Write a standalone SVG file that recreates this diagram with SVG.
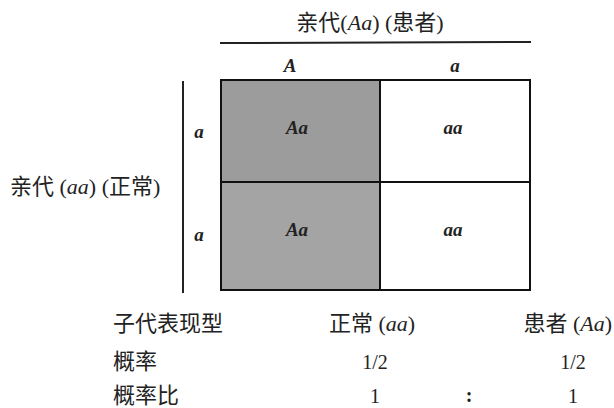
<svg xmlns="http://www.w3.org/2000/svg" width="614" height="408" viewBox="0 0 614 408">
<style>
.cjk{font-family:"Liberation Serif","Noto Sans CJK SC",serif;font-size:22px;fill:#222}
.it{font-family:"Liberation Serif",serif;font-style:italic;font-weight:bold;font-size:19px;fill:#222}
.num{font-family:"Liberation Serif",serif;font-size:20px;fill:#222;text-anchor:middle}
.ln{stroke:#222;stroke-width:2;fill:none}
.cell{stroke:#111;stroke-width:2}
</style>
<g id="title">
<text class="cjk" x="370" y="30" text-anchor="middle">亲代(<tspan font-style="italic">Aa</tspan>) (患者)</text>
</g>
<g id="connectors">
<line class="ln" x1="220" y1="43" x2="531" y2="42"/>
<line class="ln" x1="183" y1="81" x2="183" y2="293"/>
</g>
<g id="col-labels">
<text class="it" x="290" y="72" text-anchor="middle">A</text>
<text class="it" x="455" y="72" text-anchor="middle">a</text>
</g>
<g id="row-labels">
<text class="it" x="199" y="138" text-anchor="middle">a</text>
<text class="it" x="199" y="241" text-anchor="middle">a</text>
</g>
<g id="cell-1">
<rect x="221" y="80" width="159" height="102" fill="#9c9c9c" class="cell"/>
<text class="it" x="297" y="134" text-anchor="middle">Aa</text>
</g>
<g id="cell-2">
<rect x="380" y="80" width="150" height="102" fill="#fff" class="cell"/>
<text class="it" x="453" y="134" text-anchor="middle" font-weight="normal">aa</text>
</g>
<g id="cell-3">
<rect x="221" y="182" width="159" height="108" fill="#a4a4a4" class="cell"/>
<text class="it" x="297" y="236" text-anchor="middle">Aa</text>
</g>
<g id="cell-4">
<rect x="380" y="182" width="150" height="108" fill="#fff" class="cell"/>
<text class="it" x="453" y="236" text-anchor="middle" font-weight="normal">aa</text>
</g>
<g id="left-label">
<text class="cjk" x="10" y="194">亲代 (<tspan font-style="italic">aa</tspan>) (正常)</text>
</g>
<g id="table">
<text class="cjk" x="113" y="331">子代表现型</text>
<text class="cjk" x="329" y="331">正常 (<tspan font-style="italic">aa</tspan>)</text>
<text class="cjk" x="612" y="331" text-anchor="end">患者 (<tspan font-style="italic">Aa</tspan>)</text>
<text class="cjk" x="113" y="369">概率</text>
<text class="num" x="375" y="369">1/2</text>
<text class="num" x="573" y="369">1/2</text>
<text class="cjk" x="113" y="403">概率比</text>
<text class="num" x="375" y="403">1</text>
<text class="num" x="469" y="402" font-weight="bold">:</text>
<text class="num" x="573" y="403">1</text>
</g>
</svg>
